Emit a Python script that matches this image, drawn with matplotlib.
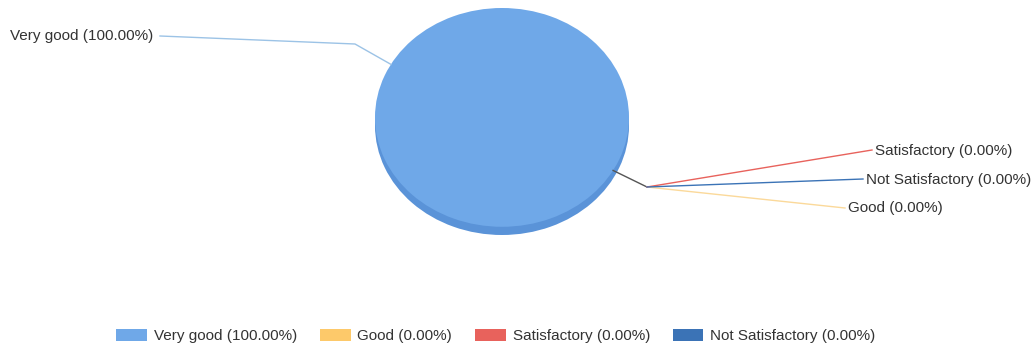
import matplotlib.pyplot as plt
import numpy as np
from matplotlib.patches import Patch

plt.rcParams['font.family'] = ['Liberation Sans', 'DejaVu Sans']

categories = ["Very good", "Good", "Satisfactory", "Not Satisfactory"]
values = [100.0, 0.0, 0.0, 0.0]
colors = ["#6fa8e8", "#fdc96a", "#e8625c", "#3b73b6"]
line_colors = ["#9cc3e6", "#fbd99a", "#e8625c", "#3b73b6"]

total = sum(values)
labels = ["%s (%.2f%%)" % (c, 100 * v / total) for c, v in zip(categories, values)]

W, H = 1035, 349
fig = plt.figure(figsize=(W / 100, H / 100), dpi=100)

# pie axes (stretched, no equal aspect -> elliptical "3d" look)
pie_left, pie_right, pie_top, pie_bot = 375, 629, 8, 235
pax = fig.add_axes([pie_left / W, 1 - pie_bot / H, (pie_right - pie_left) / W, (pie_bot - pie_top) / H])
depth = 0.075
start = -29
pax.pie(values, colors=["#5a93d8"] * 4, startangle=start, counterclock=True,
        center=(0, -depth), wedgeprops=dict(linewidth=0))
wedges, _ = pax.pie(values, colors=colors, startangle=start, counterclock=True,
                    wedgeprops=dict(linewidth=0))
pax.set_aspect('auto')
pax.set_xlim(-1, 1)
pax.set_ylim(-1 - depth, 1)
pax.axis('off')

# overlay axes in pixel coordinates
ax = fig.add_axes([0, 0, 1, 1])
ax.set_xlim(0, W)
ax.set_ylim(H, 0)
ax.axis('off')
ax.patch.set_alpha(0)


def pie_to_px(x, y):
    d = pax.transData.transform((x, y))
    return ax.transData.inverted().transform(d)


# leader line end points (elbow, label anchor)
hub = (647, 187)
ends = {
    0: [(355, 44), (160, 36)],
    1: [(845, 208)],
    2: [(872, 150)],
    3: [(863, 179)],
}
text_pos = {0: (10, 36, 'left'), 1: (848, 208, 'left'), 2: (875, 151, 'left'), 3: (866, 180, 'left')}

zero_drawn = False
for i, w in enumerate(wedges):
    mid = np.deg2rad((w.theta1 + w.theta2) / 2)
    sx, sy = pie_to_px(np.cos(mid), np.sin(mid))
    if values[i] > 0:
        pts = [(sx, sy)] + ends[i]
        ax.plot([p[0] for p in pts], [p[1] for p in pts], color=line_colors[i], lw=1)
    else:
        if not zero_drawn:
            ax.plot([sx, hub[0]], [sy, hub[1]], color="#555555", lw=1)
            zero_drawn = True
        pts = [hub] + ends[i]
        ax.plot([p[0] for p in pts], [p[1] for p in pts], color=line_colors[i], lw=1)
    tx, ty, ha = text_pos[i]
    ax.text(tx, ty, labels[i], ha=ha, va='center', fontsize=11, color="#333333")

handles = [Patch(facecolor=c, edgecolor='none') for c in colors]
fig.legend(handles, labels, loc='center', bbox_to_anchor=(496 / W, 1 - 336 / H), ncol=4,
           frameon=False, fontsize=11, handlelength=2.0, handleheight=0.9,
           columnspacing=1.5, handletextpad=0.45, labelcolor="#333333")

fig.savefig("out.png", dpi=100)
